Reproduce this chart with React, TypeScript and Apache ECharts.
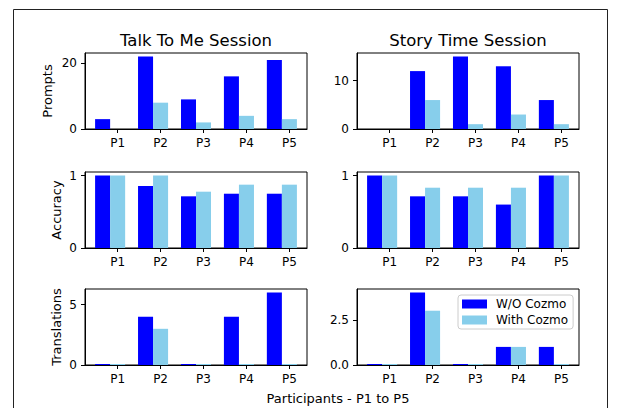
import { useEffect, useRef } from 'react';
import * as echarts from 'echarts';

const participants = ['P1', 'P2', 'P3', 'P4', 'P5'];
const seriesNames = ['W/O Cozmo', 'With Cozmo'];
const panelTitles = ['Talk To Me Session', 'Story Time Session'];
const rowLabels = ['Prompts', 'Accuracy', 'Translations'];
const xAxisTitle = 'Participants - P1 to P5';

const talkPromptsWithout = [3, 22, 9, 16, 21];
const talkPromptsWith = [0, 8, 2, 4, 3];
const storyPromptsWithout = [0, 12, 15, 13, 6];
const storyPromptsWith = [0, 6, 1, 3, 1];

const talkAccuracyWithout = [1, 0.857, 0.714, 0.75, 0.75];
const talkAccuracyWith = [1, 1, 0.778, 0.875, 0.875];
const storyAccuracyWithout = [1, 0.714, 0.714, 0.6, 1];
const storyAccuracyWith = [1, 0.833, 0.833, 0.833, 1];

const talkTranslationsWithout = [0, 4, 0, 4, 6];
const talkTranslationsWith = [0, 3, 0, 0, 0];
const storyTranslationsWithout = [0, 4, 0, 1, 1];
const storyTranslationsWith = [0, 3, 0, 1, 0];

const talkPromptTicks = [0, 20];
const storyPromptTicks = [0, 10];
const accuracyTicks = [0, 1];
const talkTranslationTicks = [0, 5];
const storyTranslationTicks = [0, 2.5];

const FONT = '"DejaVu Sans", "Liberation Sans", sans-serif';
const BLUE = '#0000ff';
const SKY = '#87ceeb';

export default function App() {
  const ref = useRef<HTMLDivElement>(null);

  useEffect(() => {
    if (!ref.current) return;
    const chart = echarts.init(ref.current, null, { renderer: 'svg' });

    const cols = [85, 357];
    const colW = 222;
    const rows = [53, 172, 289];
    const rowH = 76;
    const xMin = -0.76;
    const xMax = 4.41;
    const barUnit = 0.35;
    const barPx = (barUnit * colW) / (xMax - xMin);

    const panels = [
      { a: talkPromptsWithout, b: talkPromptsWith, ticks: talkPromptTicks, dec: 0, name: rowLabels[0], gap: 31, minH: 0 },
      { a: storyPromptsWithout, b: storyPromptsWith, ticks: storyPromptTicks, dec: 0, name: '', gap: 0, minH: 0 },
      { a: talkAccuracyWithout, b: talkAccuracyWith, ticks: accuracyTicks, dec: 0, name: rowLabels[1], gap: 22, minH: 0 },
      { a: storyAccuracyWithout, b: storyAccuracyWith, ticks: accuracyTicks, dec: 0, name: '', gap: 0, minH: 0 },
      { a: talkTranslationsWithout, b: talkTranslationsWith, ticks: talkTranslationTicks, dec: 0, name: rowLabels[2], gap: 22, minH: 1 },
      { a: storyTranslationsWithout, b: storyTranslationsWith, ticks: storyTranslationTicks, dec: 1, name: '', gap: 0, minH: 1 },
    ];

    const grid: any[] = [];
    const xAxis: any[] = [];
    const yAxis: any[] = [];
    const series: any[] = [];

    panels.forEach((p, k) => {
      const r = Math.floor(k / 2);
      const c = k % 2;
      grid.push({
        left: cols[c],
        top: rows[r],
        width: colW,
        height: rowH,
        show: true,
        borderColor: '#000',
        borderWidth: 1,
        backgroundColor: 'transparent',
        containLabel: false,
      });
      const tickVals = participants.map((_, i) => i);
      xAxis.push({
        type: 'value',
        gridIndex: k,
        min: xMin,
        max: xMax,
        splitLine: { show: false },
        axisLine: { show: true, onZero: false, lineStyle: { color: '#000', width: 1 } },
        axisTick: { show: true, length: 4, lineStyle: { color: '#000' }, customValues: tickVals },
        axisLabel: {
          show: true,
          customValues: tickVals,
          formatter: (v: number) => participants[Math.round(v)] ?? '',
          fontFamily: FONT,
          fontSize: 12,
          color: '#000',
          margin: 8,
        },
      });
      const dataMax = Math.max(...p.a, ...p.b);
      yAxis.push({
        type: 'value',
        gridIndex: k,
        min: 0,
        max: dataMax * 1.05,
        name: p.name,
        nameLocation: 'middle',
        nameGap: p.gap,
        nameTextStyle: { fontFamily: FONT, fontSize: 13, color: '#000' },
        splitLine: { show: false },
        axisLine: { show: true, onZero: false, lineStyle: { color: '#000', width: 1 } },
        axisTick: { show: true, length: 4, lineStyle: { color: '#000' }, customValues: p.ticks },
        axisLabel: {
          show: true,
          customValues: p.ticks,
          formatter: (v: number) => v.toFixed(p.dec),
          fontFamily: FONT,
          fontSize: 12,
          color: '#000',
          margin: 8,
        },
      });
      series.push({
        type: 'bar',
        name: seriesNames[0],
        xAxisIndex: k,
        yAxisIndex: k,
        barWidth: barPx,
        barGap: '-100%',
        barMinHeight: p.minH,
        itemStyle: { color: BLUE },
        data: p.a.map((v, i) => [i - barUnit, v]),
      });
      series.push({
        type: 'bar',
        name: seriesNames[1],
        xAxisIndex: k,
        yAxisIndex: k,
        barWidth: barPx,
        barGap: '-100%',
        barMinHeight: p.minH,
        itemStyle: { color: SKY },
        data: p.b.map((v, i) => [i, v]),
      });
    });

    chart.setOption({
      animation: false,
      backgroundColor: '#fff',
      grid,
      xAxis,
      yAxis,
      series,
      legend: {
        show: true,
        data: seriesNames,
        orient: 'vertical',
        left: 458,
        top: 295,
        icon: 'rect',
        itemWidth: 25,
        itemHeight: 9,
        itemGap: 4,
        padding: [3, 5, 3, 4],
        borderColor: '#cccccc',
        borderWidth: 1,
        borderRadius: 3,
        backgroundColor: 'rgba(255,255,255,0.8)',
        selectedMode: false,
        textStyle: { fontFamily: FONT, fontSize: 12, color: '#000', padding: [0, 0, 0, 4] },
      },
      graphic: [
        {
          type: 'rect',
          shape: { x: 13.5, y: 9.5, width: 594, height: 440 },
          style: { fill: 'none', stroke: '#222', lineWidth: 1 },
          silent: true,
        },
        {
          type: 'text',
          x: cols[0] + colW / 2,
          y: 40,
          style: { text: panelTitles[0], font: `16.5px ${FONT}`, fill: '#000', textAlign: 'center', textVerticalAlign: 'middle' },
        },
        {
          type: 'text',
          x: cols[1] + colW / 2,
          y: 40,
          style: { text: panelTitles[1], font: `16.5px ${FONT}`, fill: '#000', textAlign: 'center', textVerticalAlign: 'middle' },
        },
        {
          type: 'text',
          x: 338,
          y: 398,
          style: { text: xAxisTitle, font: `13px ${FONT}`, fill: '#000', textAlign: 'center', textVerticalAlign: 'middle' },
        },
      ],
    });

    return () => chart.dispose();
  }, []);

  return <div ref={ref} style={{ position: 'fixed', left: 0, top: 0, width: 619, height: 408 }} />;
}
